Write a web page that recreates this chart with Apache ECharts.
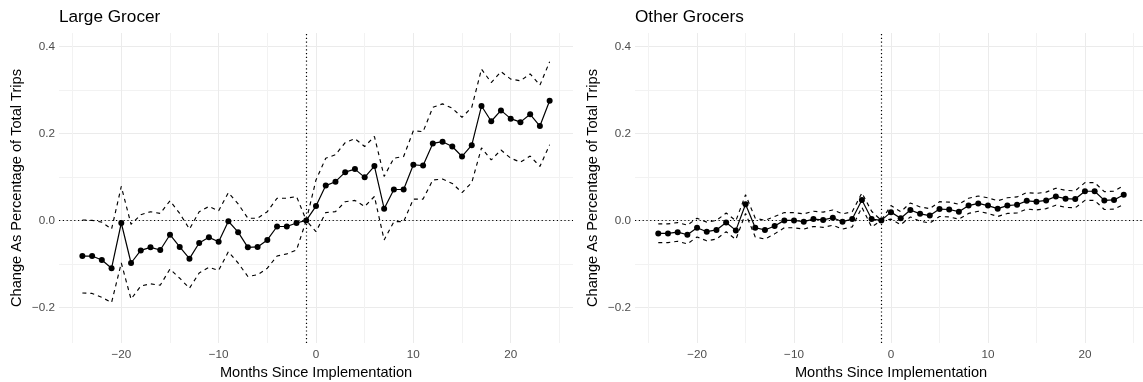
<!DOCTYPE html>
<html>
<head>
<meta charset="utf-8">
<script src="https://cdn.jsdelivr.net/npm/echarts@6/dist/echarts.min.js"></script>
<style>
  html, body { margin: 0; padding: 0; background: #ffffff; }
  #chart { width: 1143px; height: 382px; }
</style>
</head>
<body>
<div id="chart"></div>
<script>
// Event-study estimates: months relative to implementation
const months = [-24,-23,-22,-21,-20,-19,-18,-17,-16,-15,-14,-13,-12,-11,-10,-9,-8,-7,-6,-5,-4,-3,-2,-1,
                0,1,2,3,4,5,6,7,8,9,10,11,12,13,14,15,16,17,18,19,20,21,22,23,24];

// Large Grocer: point estimates and 95% bounds
const largeEst = [-0.082,-0.082,-0.091,-0.110,-0.006,-0.098,-0.069,-0.062,-0.068,-0.033,-0.061,-0.088,-0.052,-0.039,-0.049,-0.002,-0.027,-0.062,-0.061,-0.045,-0.014,-0.014,-0.006,0.000,
                  0.033,0.080,0.089,0.111,0.118,0.099,0.125,0.027,0.071,0.071,0.128,0.126,0.177,0.181,0.170,0.147,0.173,0.263,0.228,0.253,0.234,0.226,0.244,0.217,0.275];
const largeUpper = [0.001,0.000,-0.004,-0.020,0.078,-0.009,0.013,0.020,0.016,0.045,0.016,-0.020,0.020,0.032,0.022,0.064,0.038,0.005,0.005,0.020,0.051,0.051,0.055,0.000,
                    0.093,0.143,0.151,0.179,0.188,0.170,0.193,0.101,0.143,0.147,0.206,0.204,0.260,0.268,0.258,0.237,0.260,0.348,0.317,0.342,0.325,0.321,0.337,0.311,0.365];
const largeLower = [-0.167,-0.168,-0.177,-0.189,-0.098,-0.181,-0.151,-0.146,-0.149,-0.112,-0.133,-0.156,-0.121,-0.108,-0.115,-0.072,-0.098,-0.129,-0.125,-0.110,-0.082,-0.077,-0.068,0.000,
                    -0.026,0.018,0.020,0.043,0.046,0.032,0.055,-0.045,-0.003,-0.003,0.049,0.049,0.093,0.095,0.085,0.064,0.087,0.167,0.139,0.162,0.143,0.134,0.148,0.124,0.174];

// Other Grocers: point estimates and 95% bounds
const otherEst = [-0.030,-0.030,-0.027,-0.033,-0.017,-0.026,-0.022,-0.005,-0.023,0.037,-0.017,-0.022,-0.013,0.000,0.000,-0.003,0.003,0.001,0.006,-0.003,0.003,0.047,0.003,0.000,
                  0.019,0.005,0.024,0.015,0.011,0.026,0.025,0.020,0.034,0.039,0.034,0.027,0.034,0.036,0.045,0.043,0.046,0.055,0.050,0.049,0.067,0.067,0.046,0.047,0.059];
const otherUpper = [-0.008,-0.008,-0.005,-0.011,0.005,-0.004,0.000,0.017,-0.001,0.059,0.005,0.000,0.009,0.018,0.018,0.015,0.021,0.019,0.024,0.015,0.020,0.063,0.021,0.000,
                    0.034,0.020,0.040,0.031,0.027,0.043,0.042,0.037,0.051,0.056,0.052,0.045,0.052,0.054,0.064,0.062,0.065,0.074,0.069,0.068,0.087,0.087,0.066,0.067,0.080];
const otherLower = [-0.051,-0.051,-0.048,-0.054,-0.038,-0.047,-0.043,-0.026,-0.044,0.016,-0.038,-0.043,-0.031,-0.017,-0.017,-0.020,-0.014,-0.016,-0.011,-0.020,-0.015,0.030,-0.015,0.000,
                    0.003,-0.010,0.008,-0.002,-0.006,0.009,0.008,0.003,0.016,0.021,0.016,0.009,0.016,0.017,0.026,0.024,0.027,0.035,0.030,0.029,0.046,0.046,0.025,0.026,0.037];

// Axis ticks and reference lines
const xMajorTicks = [-20, -10, 0, 10, 20];
const xMinorTicks = [-25, -15, -5, 5, 15, 25];
const yMajorTicks = [-0.2, 0, 0.2, 0.4];
const yMinorTicks = [-0.1, 0.1, 0.3];
const xRange = [-26.4, 26.4];
const yRange = [-0.282, 0.431];
const refMonth = -1;
const refValue = 0;

const panelTitles = ['Large Grocer', 'Other Grocers'];
const xTitle = 'Months Since Implementation';
const yTitle = 'Change As Percentage of Total Trips';

const FONT = '"Liberation Sans", Arial, Helvetica, sans-serif';
const GRID_COLOR = '#ebebeb';
const MINOR_COLOR = '#f2f2f2';

const fmtNum = (v, d) => (v < 0 ? '\u2212' : '') + Math.abs(v).toFixed(d);
const pairs = (ys) => months.map((m, i) => [m, ys[i]]);

const grids = [
  { left: 59, right: 570, top: 33, bottom: 39, outerBoundsMode: 'none' },
  { left: 635, right: -4, top: 33, bottom: 39, outerBoundsMode: 'none' }
];

const xAxes = [], yAxes = [], series = [], titles = [];

grids.forEach((g, gi) => {
  titles.push({
    text: panelTitles[gi], left: g.left, top: 9, padding: 0,
    textStyle: { fontFamily: FONT, fontSize: 17.2, fontWeight: 'normal', color: '#000' }
  });
  // major x axis (labels + major grid)
  xAxes.push({
    type: 'value', gridIndex: gi, position: 'bottom', min: xRange[0], max: xRange[1],
    name: xTitle, nameLocation: 'middle', nameGap: 21,
    nameTextStyle: { fontFamily: FONT, fontSize: 14.6, color: '#000' },
    axisLine: { show: false },
    axisTick: { show: false, customValues: xMajorTicks },
    axisLabel: { customValues: xMajorTicks, margin: 6, fontFamily: FONT, fontSize: 11.7, color: '#4d4d4d',
                 formatter: v => fmtNum(v, 0) },
    splitLine: { show: true, lineStyle: { color: GRID_COLOR, width: 1.07 } }
  });
  // minor x grid
  xAxes.push({
    type: 'value', gridIndex: gi, position: 'top', min: xRange[0], max: xRange[1],
    axisLine: { show: false },
    axisTick: { show: false, customValues: xMinorTicks },
    axisLabel: { show: false, customValues: xMinorTicks },
    splitLine: { show: true, lineStyle: { color: MINOR_COLOR, width: 1 } }
  });
  // major y axis
  yAxes.push({
    type: 'value', gridIndex: gi, position: 'left', min: yRange[0], max: yRange[1],
    name: yTitle, nameLocation: 'middle', nameGap: 35,
    nameTextStyle: { fontFamily: FONT, fontSize: 14.6, color: '#000' },
    axisLine: { show: false },
    axisTick: { show: false, customValues: yMajorTicks },
    axisLabel: { customValues: yMajorTicks, margin: 4, fontFamily: FONT, fontSize: 11.7, color: '#4d4d4d',
                 formatter: v => fmtNum(v, 1) },
    splitLine: { show: true, lineStyle: { color: GRID_COLOR, width: 1.07 } }
  });
  // minor y grid
  yAxes.push({
    type: 'value', gridIndex: gi, position: 'right', min: yRange[0], max: yRange[1],
    axisLine: { show: false },
    axisTick: { show: false, customValues: yMinorTicks },
    axisLabel: { show: false, customValues: yMinorTicks },
    splitLine: { show: true, lineStyle: { color: MINOR_COLOR, width: 1 } }
  });
});

const panels = [
  { est: largeEst, up: largeUpper, lo: largeLower },
  { est: otherEst, up: otherUpper, lo: otherLower }
];

panels.forEach((p, gi) => {
  const xi = gi * 2, yi = gi * 2;
  ['up', 'lo'].forEach(k => {
    series.push({
      type: 'line', xAxisIndex: xi, yAxisIndex: yi, data: pairs(p[k]),
      showSymbol: false, symbol: 'none', silent: true,
      lineStyle: { color: '#000', width: 1.15, type: [4, 4] }
    });
  });
  series.push({
    type: 'line', xAxisIndex: xi, yAxisIndex: yi, data: pairs(p.est),
    symbol: 'circle', symbolSize: 6, silent: true,
    itemStyle: { color: '#000' },
    lineStyle: { color: '#000', width: 1.2 },
    markLine: {
      silent: true, symbol: 'none', label: { show: false },
      lineStyle: { color: '#000', width: 1.2, type: [1.2, 2.6] },
      data: [{ xAxis: refMonth }, { yAxis: refValue }]
    },
    z: 3
  });
});

const chart = echarts.init(document.getElementById('chart'), null, { renderer: 'canvas' });
chart.setOption({
  animation: false,
  backgroundColor: '#ffffff',
  title: titles,
  grid: grids,
  xAxis: xAxes,
  yAxis: yAxes,
  series: series
});
</script>
</body>
</html>
